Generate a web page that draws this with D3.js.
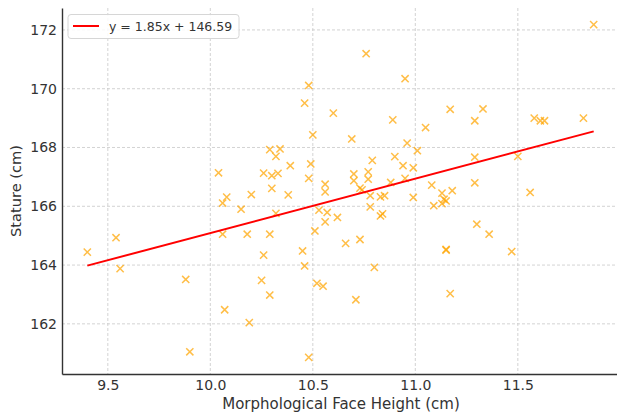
<!DOCTYPE html>
<html>
<head>
<meta charset="utf-8">
<script src="https://cdn.jsdelivr.net/npm/d3@7"></script>
<style>
  body { margin: 0; background: #fff; }
  text { font-family: "DejaVu Sans", sans-serif; fill: #333; }
</style>
</head>
<body>
<script>
// Face height (cm) for each subject
const faceHeight = [
  9.40, 9.54, 9.56, 9.88, 9.90, 10.06, 10.08, 10.04, 10.06, 10.18,
  10.29, 10.26, 10.25, 10.29, 10.07, 10.19, 10.15, 10.32, 10.45, 10.46,
  10.51, 10.52, 10.55, 10.48, 10.53, 10.57, 10.56, 10.62, 10.48, 10.46,
  10.60, 10.50, 10.29, 10.34, 10.32, 10.26, 10.30, 10.33, 10.39, 10.49,
  10.48, 10.30, 10.20, 10.38, 10.56, 10.56, 10.76, 10.95, 10.89, 11.17,
  11.05, 10.69, 10.96, 11.01, 10.79, 10.90, 10.94, 10.99, 10.70, 10.70,
  10.77, 10.77, 10.73, 10.74, 10.88, 10.95, 11.08, 10.99, 10.78, 10.83,
  10.85, 10.78, 11.13, 11.14, 11.18, 11.09, 11.13, 11.15, 11.33, 11.29,
  11.58, 11.61, 11.63, 11.82, 11.87, 11.29, 11.50, 11.29, 11.56, 10.66,
  10.73, 10.80, 10.71, 10.83, 10.84, 11.30, 11.36, 11.15, 11.15, 11.17,
  11.47
];

// Stature (cm) for the same subjects
const stature = [
  164.44, 164.93, 163.88, 163.51, 161.05, 166.11, 166.31, 167.14, 165.05, 165.05,
  165.05, 164.34, 163.48, 162.98, 162.48, 162.04, 165.90, 165.76, 164.48, 163.97,
  165.16, 163.38, 163.28, 160.86, 165.87, 165.79, 165.47, 165.62, 170.11, 169.51,
  169.17, 168.43, 167.93, 167.95, 167.70, 167.13, 167.04, 167.12, 167.38, 167.44,
  166.95, 166.61, 166.40, 166.39, 166.75, 166.49, 171.19, 170.34, 168.94, 169.30,
  168.68, 168.29, 168.15, 167.89, 167.56, 167.69, 167.38, 167.31, 167.10, 166.87,
  167.17, 166.92, 166.62, 166.56, 166.81, 166.95, 166.72, 166.30, 166.36, 166.32,
  166.36, 165.98, 166.45, 166.24, 166.53, 166.02, 166.09, 166.18, 169.31, 168.91,
  169.00, 168.91, 168.91, 169.00, 172.18, 167.67, 167.70, 166.80, 166.47, 164.74,
  164.87, 163.92, 162.82, 165.67, 165.74, 165.39, 165.05, 164.53, 164.51, 163.03,
  164.46
];

// Fitted line, as printed in the legend
const slope = 1.85;
const intercept = 146.59;

const xTicks = [9.5, 10.0, 10.5, 11.0, 11.5];
const yTicks = [162, 164, 166, 168, 170, 172];

const outerWidth = 617;
const outerHeight = 414;
const margin = { top: 8, right: -2, bottom: 40, left: 62 };
const width = outerWidth - margin.left - margin.right;
const height = outerHeight - margin.top - margin.bottom;

const svg = d3.select("body").append("svg")
    .attr("width", outerWidth)
    .attr("height", outerHeight);

const g = svg.append("g")
    .attr("transform", `translate(${margin.left},${margin.top})`);

// matplotlib-style 5% padding around the data
const xExt = d3.extent(faceHeight);
const yExt = d3.extent(stature);
const xPad = (xExt[1] - xExt[0]) * 0.05;
const yPad = (yExt[1] - yExt[0]) * 0.05;

const x = d3.scaleLinear()
    .domain([xExt[0] - xPad, xExt[1] + xPad])
    .range([0, width]);

const y = d3.scaleLinear()
    .domain([yExt[0] - yPad, yExt[1] + yPad])
    .range([height, 0]);

// Grid lines
g.append("g")
    .selectAll("line")
    .data(xTicks)
    .join("line")
    .attr("x1", d => x(d)).attr("x2", d => x(d))
    .attr("y1", 0).attr("y2", height)
    .attr("stroke", "#c8c8c8")
    .attr("stroke-width", 0.8)
    .attr("stroke-dasharray", "3,2");

g.append("g")
    .selectAll("line")
    .data(yTicks)
    .join("line")
    .attr("x1", 0).attr("x2", width)
    .attr("y1", d => y(d)).attr("y2", d => y(d))
    .attr("stroke", "#c8c8c8")
    .attr("stroke-width", 0.8)
    .attr("stroke-dasharray", "3,2");

// Points drawn as x markers
const pts = faceHeight.map((v, i) => ({ fx: v, st: stature[i] }));
const m = 3.6;
g.append("g")
    .selectAll("path")
    .data(pts)
    .join("path")
    .attr("d", d => {
        const cx = x(d.fx), cy = y(d.st);
        return `M${cx - m},${cy - m}L${cx + m},${cy + m}M${cx - m},${cy + m}L${cx + m},${cy - m}`;
    })
    .attr("stroke", "orange")
    .attr("stroke-opacity", 0.72)
    .attr("stroke-width", 1.5)
    .attr("fill", "none");

// Regression line over the data's x range
g.append("line")
    .attr("x1", x(xExt[0]))
    .attr("y1", y(slope * xExt[0] + intercept))
    .attr("x2", x(xExt[1]))
    .attr("y2", y(slope * xExt[1] + intercept))
    .attr("stroke", "red")
    .attr("stroke-width", 2);

// Axes (no tick marks, only labels)
const xAxis = g.append("g")
    .attr("transform", `translate(0,${height})`)
    .call(d3.axisBottom(x).tickValues(xTicks).tickFormat(d3.format(".1f")).tickSize(0).tickPadding(6));

const yAxis = g.append("g")
    .call(d3.axisLeft(y).tickValues(yTicks).tickFormat(d3.format("d")).tickSize(0).tickPadding(5));

[xAxis, yAxis].forEach(a => {
    a.select(".domain").attr("stroke", "#333").attr("stroke-width", 1.4);
    a.selectAll(".tick text").style("font-size", "14px").style("fill", "#333");
});

// Axis titles
svg.append("text")
    .attr("x", margin.left + (616 - margin.left) / 2 + 2)
    .attr("y", 409)
    .attr("text-anchor", "middle")
    .style("font-size", "15px")
    .text("Morphological Face Height (cm)");

svg.append("text")
    .attr("transform", `translate(21,${margin.top + height / 2}) rotate(-90)`)
    .attr("text-anchor", "middle")
    .style("font-size", "14.6px")
    .text("Stature (cm)");

// Legend
const legend = svg.append("g")
    .attr("transform", "translate(68,14.5)");

legend.append("rect")
    .attr("width", 171)
    .attr("height", 24)
    .attr("rx", 3)
    .attr("fill", "#fff")
    .attr("fill-opacity", 0.85)
    .attr("stroke", "#d6d6d6")
    .attr("stroke-width", 1);

legend.append("line")
    .attr("x1", 5).attr("x2", 31)
    .attr("y1", 11.5).attr("y2", 11.5)
    .attr("stroke", "red")
    .attr("stroke-width", 2);

legend.append("text")
    .attr("x", 41)
    .attr("y", 16)
    .style("font-size", "12.5px")
    .text(`y = ${slope.toFixed(2)}x + ${intercept.toFixed(2)}`);
</script>
</body>
</html>
